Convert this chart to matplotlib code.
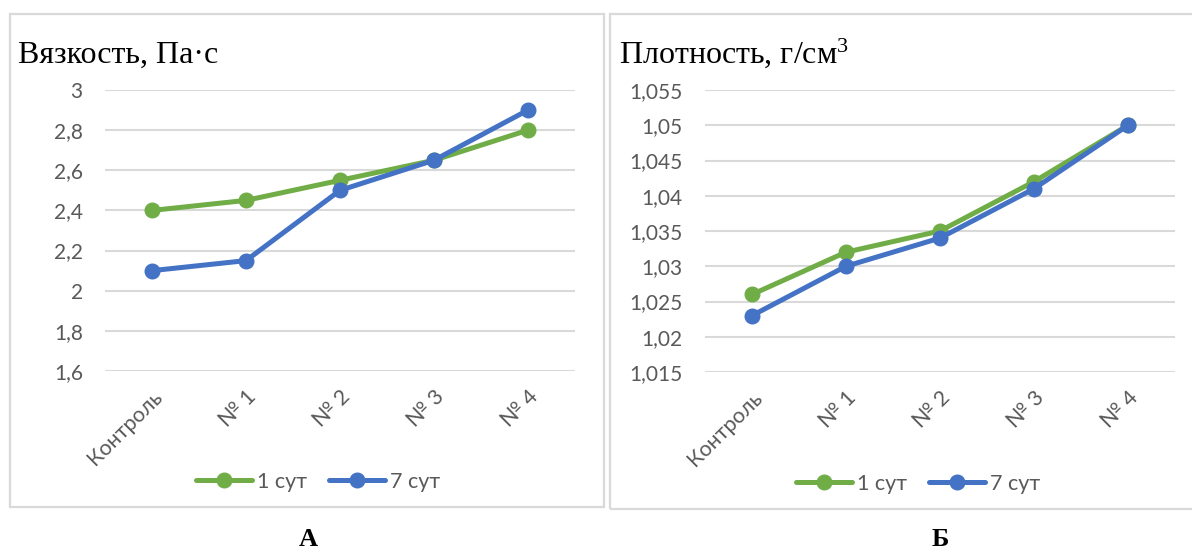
import matplotlib
matplotlib.use("Agg")
import matplotlib.pyplot as plt
from matplotlib.patches import Rectangle

# Data
categories = ["Контроль", "№ 1", "№ 2", "№ 3", "№ 4"]
series_names = ["1 сут", "7 сут"]

viscosity_1d = [2.40, 2.45, 2.55, 2.65, 2.80]
viscosity_7d = [2.10, 2.15, 2.50, 2.65, 2.90]
viscosity_ticks = [1.6, 1.8, 2.0, 2.2, 2.4, 2.6, 2.8, 3.0]
viscosity_ticklabels = ["1,6", "1,8", "2", "2,2", "2,4", "2,6", "2,8", "3"]

density_1d = [1.026, 1.032, 1.035, 1.042, 1.050]
density_7d = [1.023, 1.030, 1.034, 1.041, 1.050]
density_ticks = [1.015, 1.020, 1.025, 1.030, 1.035, 1.040, 1.045, 1.050, 1.055]
density_ticklabels = ["1,015", "1,02", "1,025", "1,03", "1,035", "1,04", "1,045", "1,05", "1,055"]

GREEN = "#70AD47"
BLUE = "#4472C4"
GRID = "#D9D9D9"
TICK = "#595959"

plt.rcParams["mathtext.fontset"] = "custom"
plt.rcParams["mathtext.rm"] = "Liberation Serif"
plt.rcParams["mathtext.it"] = "Liberation Serif:italic"
plt.rcParams["mathtext.bf"] = "Liberation Serif:bold"

W, H = 1192, 552
fig = plt.figure(figsize=(W / 100, H / 100), dpi=100)
fig.patch.set_facecolor("white")

SANS = ["Lato", "DejaVu Sans"]
SERIF = ["Liberation Serif", "DejaVu Serif"]


def px_rect(x0, y0, x1, y1):
    """Pixel box (top-left origin) -> figure-fraction [l, b, w, h]."""
    return [x0 / W, 1 - y1 / H, (x1 - x0) / W, (y1 - y0) / H]


def panel_frame(x0, y0, x1, y1):
    l, b, w, h = px_rect(x0, y0, x1, y1)
    fig.patches.append(Rectangle((l, b), w, h, transform=fig.transFigure,
                                 fill=False, edgecolor=GRID, linewidth=1.6,
                                 zorder=0))


def draw_panel(box, s1, s2, ticks, ticklabels, legend_center):
    ax = fig.add_axes(px_rect(*box))
    x = list(range(len(categories)))
    ax.plot(x, s1, color=GREEN, linewidth=3.6, marker="o", markersize=10.5,
            solid_capstyle="round", label=series_names[0], zorder=3)
    ax.plot(x, s2, color=BLUE, linewidth=3.6, marker="o", markersize=10.5,
            solid_capstyle="round", label=series_names[1], zorder=4)
    ax.set_xlim(-0.5, len(categories) - 0.5)
    ax.set_ylim(ticks[0], ticks[-1])
    ax.set_yticks(ticks)
    ax.set_yticklabels(ticklabels, fontsize=15, color=TICK, family=SANS)
    ax.set_xticks(x)
    ax.set_xticklabels(categories, fontsize=15.5, color=TICK, family=SANS,
                       rotation=45, ha="right", va="top",
                       rotation_mode="anchor")
    ax.tick_params(axis="y", length=0, pad=16)
    ax.tick_params(axis="x", length=0, pad=11)
    ax.grid(axis="y", color=GRID, linewidth=1.5)
    ax.set_axisbelow(True)
    for sp in ax.spines.values():
        sp.set_visible(False)
    ax.patch.set_alpha(0)
    cx, cy = legend_center
    fig.legend(*ax.get_legend_handles_labels(), loc="center",
               bbox_to_anchor=(cx / W, 1 - cy / H), ncol=2, frameon=False,
               prop={"family": SANS, "size": 15.5}, labelcolor=TICK,
               handlelength=2.6, handletextpad=0.25, columnspacing=1.0,
               borderaxespad=0, borderpad=0)
    return ax


# Panel frames
panel_frame(9.5, 14, 604.5, 507)
panel_frame(610, 14, 1200, 509)

# Panel A: viscosity
draw_panel((105, 90, 575, 371), viscosity_1d, viscosity_7d,
           viscosity_ticks, viscosity_ticklabels, (318, 482))
fig.text(18 / W, 1 - 63 / H, "Вязкость, Па·с", family=SERIF, fontsize=23,
         va="baseline", ha="left", color="black")
fig.text(308 / W, 1 - 540 / H, "А", family=SERIF, fontsize=19,
         fontweight="bold", ha="center", va="center")

# Panel B: density
draw_panel((705, 90, 1175, 372), density_1d, density_7d,
           density_ticks, density_ticklabels, (918, 484))
fig.text(619 / W, 1 - 63 / H, r"Плотность, г/см$^{3}$", family=SERIF,
         fontsize=23, va="baseline", ha="left", color="black")
fig.text(940 / W, 1 - 540 / H, "Б", family=SERIF, fontsize=19,
         fontweight="bold", ha="center", va="center")

fig.savefig("out.png", dpi=100, facecolor="white")
